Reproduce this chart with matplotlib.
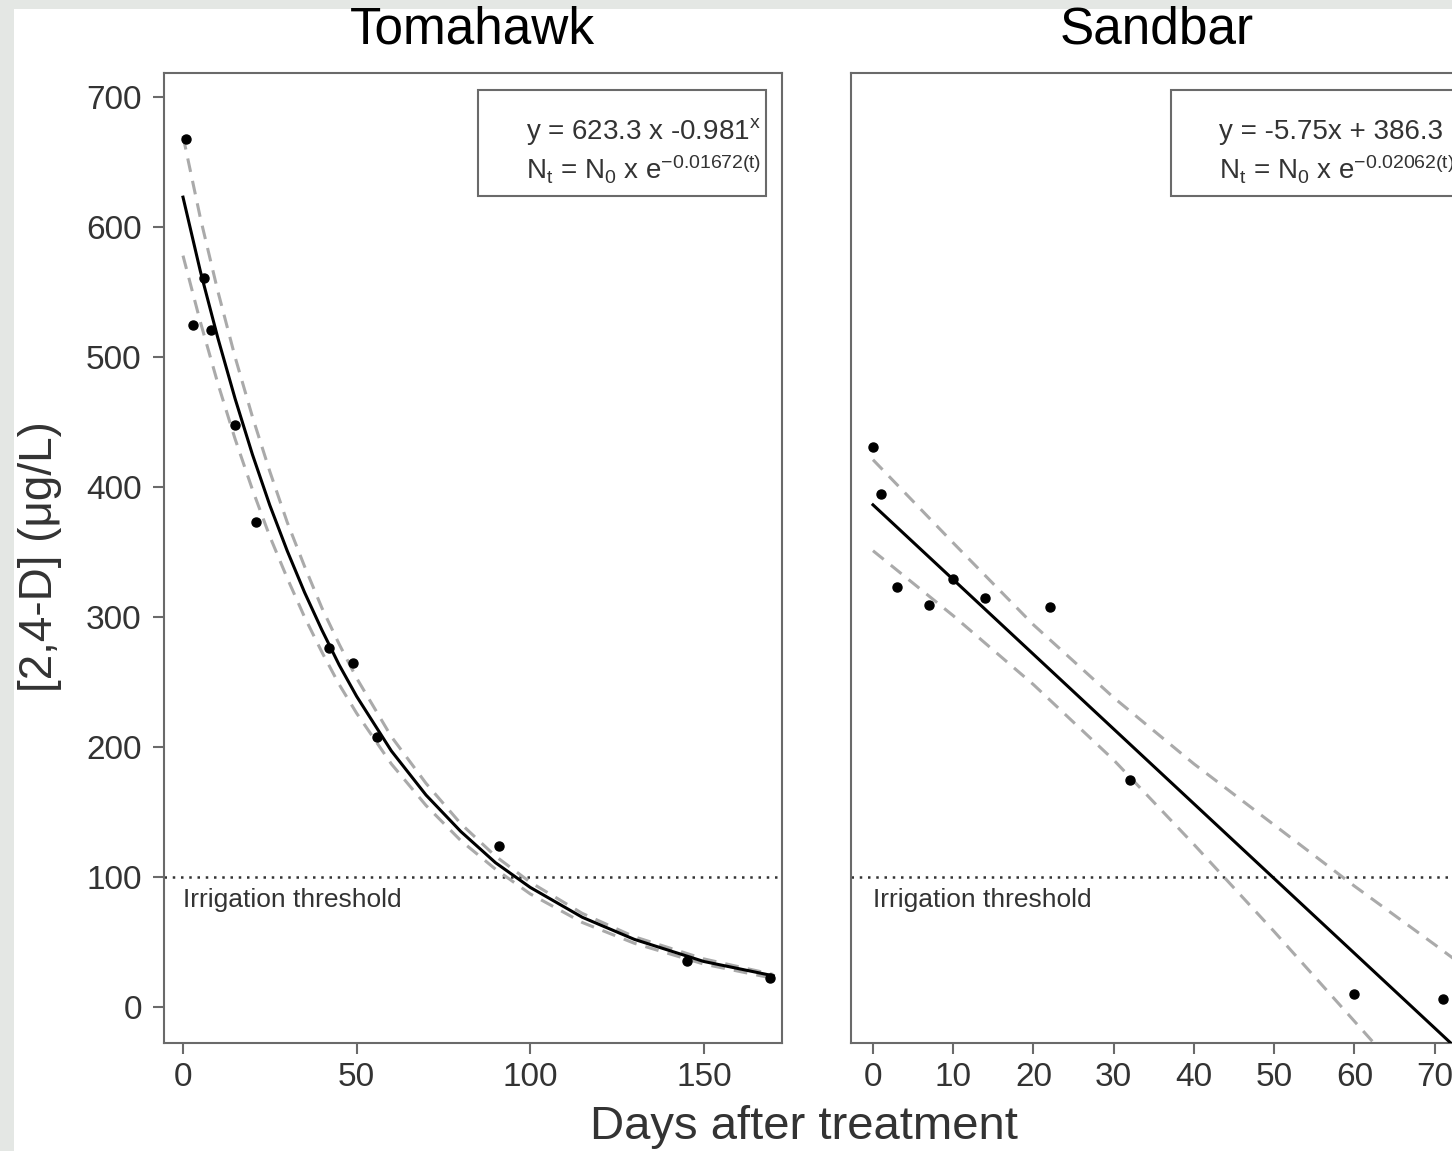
import matplotlib
matplotlib.use("Agg")
import matplotlib.pyplot as plt
from matplotlib.patches import Rectangle

plt.rcParams['font.family'] = ['Liberation Sans', 'DejaVu Sans']
plt.rcParams['mathtext.fontset'] = 'custom'
plt.rcParams['mathtext.rm'] = 'Liberation Sans'
plt.rcParams['mathtext.it'] = 'Liberation Sans'
plt.rcParams['mathtext.default'] = 'regular'

# Tomahawk: measured concentrations
tom_days = [1, 3, 6, 8, 15, 21, 42, 49, 56, 91, 145, 169]
tom_conc = [668, 525, 561, 521, 448, 373, 276, 265, 208, 124, 35, 22]

# Tomahawk: fitted curve and dashed bands
tom_curve_x = [0, 5, 10, 15, 20, 25, 30, 35, 40, 45, 50, 60, 70, 80, 90, 100, 115, 130, 150, 170]
tom_fit = [623, 566, 515, 468, 425, 386, 351, 319, 290, 263, 239, 197, 163, 135, 111, 92, 69, 52, 35, 24]
tom_upper = [670, 607, 551, 500, 454, 412, 373, 339, 307, 279, 253, 208, 172, 141, 116, 96, 72, 54, 37, 25]
tom_lower = [578, 527, 480, 437, 398, 362, 330, 300, 273, 248, 226, 187, 155, 128, 106, 87, 65, 49, 33, 22]

# Sandbar: measured concentrations
sand_days = [0, 1, 3, 7, 10, 14, 22, 32, 60, 71]
sand_conc = [431, 395, 323, 309, 329, 315, 308, 175, 10, 6]

# Sandbar: fitted line and dashed bands
sand_curve_x = [0, 10, 20, 30, 40, 50, 60, 70, 75]
sand_fit = [386.3, 328.8, 271.3, 213.8, 156.3, 98.8, 41.3, -16.2, -45.0]
sand_upper = [421, 357, 294, 238, 187, 140, 93, 48, 25]
sand_lower = [351, 301, 248, 190, 125, 58, -11, -80, -115]

threshold = 100
tom_eq = ['y = 623.3 x -0.981$^{x}$',
          'N$_{t}$ = N$_{0}$ x e$^{-0.01672(t)}$']
sand_eq = ['y = -5.75x + 386.3',
           'N$_{t}$ = N$_{0}$ x e$^{-0.02062(t)}$']

W, H = 1452, 1151
fig = plt.figure(figsize=(W / 100, H / 100), dpi=100, facecolor='#e4e7e4')
fig.patches.append(Rectangle((14 / W, 0), 1, 1 - 9 / H, transform=fig.transFigure,
                             facecolor='white', edgecolor='none', zorder=-10))

ax1 = fig.add_axes([164 / W, 1 - 1043 / H, 618 / W, 970 / H])
ax2 = fig.add_axes([851 / W, 1 - 1043 / H, 619 / W, 970 / H])

spine_col = '#6a6a6a'
text_col = '#333333'


def style(ax, show_y):
    ax.set_facecolor('white')
    for s in ax.spines.values():
        s.set_color(spine_col)
        s.set_linewidth(1.5)
    ax.tick_params(axis='x', direction='out', length=8, width=1.5, color=spine_col,
                   labelsize=24, labelcolor=text_col, pad=6)
    if show_y:
        ax.tick_params(axis='y', direction='out', length=8, width=1.5, color=spine_col,
                       labelsize=24, labelcolor=text_col, pad=8)
    else:
        ax.tick_params(axis='y', left=False, labelleft=False)
    ax.set_ylim(-27.7, 718.5)
    ax.set_yticks([0, 100, 200, 300, 400, 500, 600, 700])


def panel(ax, days, conc, cx, fit, up, lo, eq, xlim, xticks, box_x):
    ax.plot(cx, up, color='#aaaaaa', lw=2.2, dashes=(4.5, 3), zorder=2)
    ax.plot(cx, lo, color='#aaaaaa', lw=2.2, dashes=(4.5, 3), zorder=2)
    ax.plot(cx, fit, color='black', lw=2.2, zorder=3)
    ax.plot(days, conc, 'o', color='black', ms=6.5, zorder=4)
    ax.axhline(threshold, color='#333333', lw=1.8, linestyle=(0, (1, 2.3)), zorder=1)
    ax.text(0, 82, 'Irrigation threshold', fontsize=19, color=text_col, va='center', ha='left')
    ax.set_xlim(*xlim)
    ax.set_xticks(xticks)
    ax.add_patch(Rectangle((box_x, 0.873), 0.466, 0.1095, transform=ax.transAxes,
                           facecolor='white', edgecolor=spine_col, lw=1.5, zorder=5))
    x0 = box_x + 48 / 618
    ax.text(x0, 0.932, eq[0], transform=ax.transAxes, fontsize=20, color=text_col,
            ha='left', va='baseline', zorder=6)
    ax.text(x0, 0.8915, eq[1], transform=ax.transAxes, fontsize=20, color=text_col,
            ha='left', va='baseline', zorder=6)


panel(ax1, tom_days, tom_conc, tom_curve_x, tom_fit, tom_upper, tom_lower, tom_eq,
      (-5.47, 172.5), [0, 50, 100, 150], 0.508)
panel(ax2, sand_days, sand_conc, sand_curve_x, sand_fit, sand_upper, sand_lower, sand_eq,
      (-2.74, 74.4), [0, 10, 20, 30, 40, 50, 60, 70], 0.517)
style(ax1, True)
style(ax2, False)

fig.text(472 / W, 1 - 30 / H, 'Tomahawk', fontsize=37, color='black', ha='center', va='center')
fig.text(1157 / W, 1 - 30 / H, 'Sandbar', fontsize=37, color='black', ha='center', va='center')
fig.text(804 / W, 1 - 1127 / H, 'Days after treatment', fontsize=34, color=text_col,
         ha='center', va='center')
fig.text(40 / W, 1 - 557 / H, '[2,4-D] (\u03bcg/L)', fontsize=33, color=text_col,
         ha='center', va='center', rotation=90)

fig.savefig('out.png', dpi=100, facecolor=fig.get_facecolor())
